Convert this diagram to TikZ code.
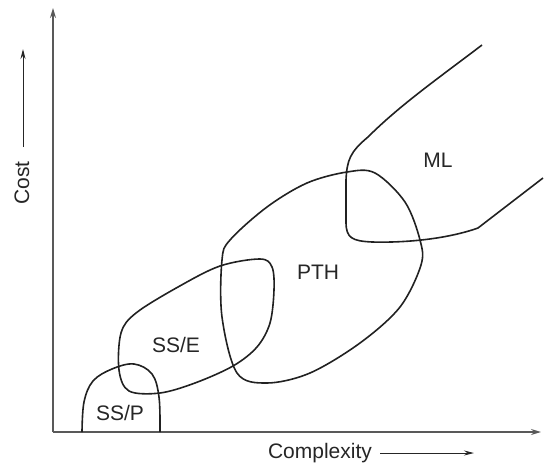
\documentclass[tikz,border=0pt]{standalone}
\usepackage{fontspec}
\setmainfont{Liberation Sans}
\usetikzlibrary{arrows.meta}
\begin{document}
\begin{tikzpicture}[x=1pt,y=-1pt,
  axis/.style={draw=black!65, line width=1.4pt, -{Stealth[length=10pt,width=6pt]}},
  smallarrow/.style={draw=black!85, line width=1pt, -{Stealth[length=10pt,width=5pt]}},
  region/.style={draw=black!87, line width=1.6pt, line join=round},
  lbl/.style={font=\fontsize{21}{25}\selectfont, text=black!85, inner sep=0pt}]
\useasboundingbox (0,0) rectangle (544,464);
% axes
\coordinate (O) at (53,432);
\coordinate (Ytop) at (53,8);
\coordinate (Xend) at (541,432);
\draw[axis] (O) -- (Ytop);
\draw[axis] (O) -- (Xend);
% axis labels
\node[lbl, rotate=90] (cost) at (22,183) {Cost};
\coordinate (costA) at (23,147);
\coordinate (costB) at (23,49);
\draw[smallarrow] (costA) -- (costB);
\node[lbl] (cx) at (320,453) {Complexity};
\coordinate (cxA) at (380,453);
\coordinate (cxB) at (474,453);
\draw[smallarrow] (cxA) -- (cxB);
% SS/P
\draw[region] plot[smooth, tension=0.6] coordinates {(82,432) (84,402) (93,381) (112,369) (134,364) (152,374) (159,397) (160,432)};
% SS/E
\draw[region] plot[smooth cycle, tension=0.55] coordinates {(274,290) (270,323) (257,347) (233,366) (195,383) (160,393) (129,391) (119,370) (121,333) (136,313) (178,287) (220,266) (260,259) (272,267)};
% PTH
\draw[region] plot[smooth cycle, tension=0.55] coordinates {(375,173) (405,202) (420,240) (421,265) (400,307) (360,343) (310,373) (267,383) (237,373) (222,317) (222,260) (230,240) (267,207) (307,183) (347,172)};
% ML
\draw[region] (482,45) .. controls (440,77) and (400,105) .. (368,137)
  .. controls (350,152) and (347,160) .. (346,180) -- (346,222)
  .. controls (346,238) and (352,241) .. (372,242)
  .. controls (410,243) and (450,238) .. (478,228) -- (543,178);
% labels
\node[lbl] (ssp) at (120,413) {SS/P};
\node[lbl] (sse) at (176,345) {SS/E};
\node[lbl] (pth) at (318,272) {PTH};
\node[lbl] (ml) at (438,160) {ML};
\end{tikzpicture}
\end{document}
